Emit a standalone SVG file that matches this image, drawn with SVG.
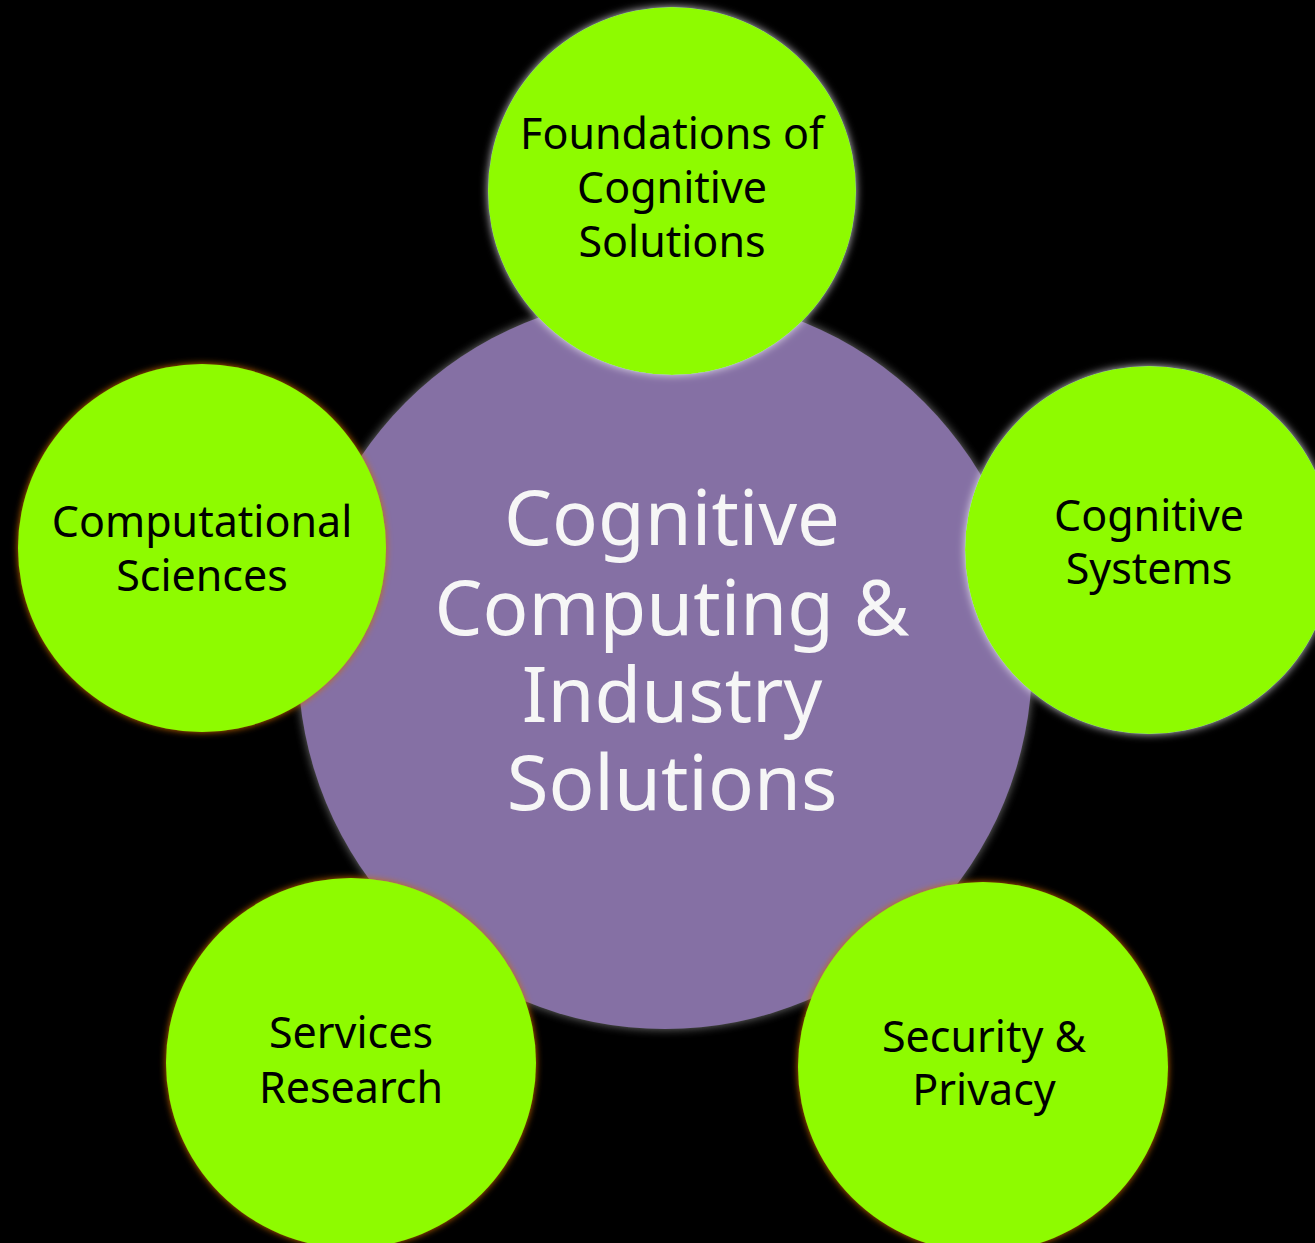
<svg xmlns="http://www.w3.org/2000/svg" width="1315" height="1243" viewBox="0 0 1315 1243">
  <defs>
    <filter id="glowWhite" x="-20%" y="-20%" width="140%" height="140%">
      <feGaussianBlur in="SourceAlpha" stdDeviation="4" result="b"/>
      <feFlood flood-color="#f4f0f6" flood-opacity="0.85"/>
      <feComposite in2="b" operator="in" result="g"/>
      <feMerge><feMergeNode in="g"/><feMergeNode in="SourceGraphic"/></feMerge>
    </filter>
    <filter id="glowOrange" x="-20%" y="-20%" width="140%" height="140%">
      <feGaussianBlur in="SourceAlpha" stdDeviation="3.5" result="b"/>
      <feFlood flood-color="#d06a0a" flood-opacity="1"/>
      <feComposite in2="b" operator="in" result="g"/>
      <feMerge><feMergeNode in="g"/><feMergeNode in="SourceGraphic"/></feMerge>
    </filter>
    <filter id="glowGray" x="-20%" y="-20%" width="140%" height="140%">
      <feGaussianBlur in="SourceAlpha" stdDeviation="5" result="b"/>
      <feFlood flood-color="#9a9a9a" flood-opacity="0.75"/>
      <feComposite in2="b" operator="in" result="g"/>
      <feMerge><feMergeNode in="g"/><feMergeNode in="SourceGraphic"/></feMerge>
    </filter>
  </defs>
  <style>
    .bg { fill: #000000; }
    .center { fill: #8570a4; }
    .sat { fill: #8efb00; }
    .lbl { font-family: "Noto Sans", "Open Sans", "DejaVu Sans", sans-serif; font-size: 43px; fill: #000000; text-anchor: middle; }
    .big { font-family: "Noto Sans", "Open Sans", "DejaVu Sans", sans-serif; font-size: 76px; fill: #f6f6f6; text-anchor: middle; }
  </style>
  <rect class="bg" x="0" y="0" width="1315" height="1243"/>

  <g id="node-center">
    <circle class="center" cx="665" cy="662" r="367" filter="url(#glowGray)"/>
    <text class="big" x="672" y="545">Cognitive</text>
    <text class="big" x="672" y="635">Computing &amp;</text>
    <text class="big" x="672" y="722">Industry</text>
    <text class="big" x="672" y="810">Solutions</text>
  </g>

  <g id="connectors"></g>

  <g id="node-foundations">
    <circle class="sat" cx="672" cy="191" r="184" filter="url(#glowWhite)"/>
    <text class="lbl" x="672" y="149">Foundations of</text>
    <text class="lbl" x="672" y="203">Cognitive</text>
    <text class="lbl" x="672" y="257">Solutions</text>
  </g>

  <g id="node-cognitive-systems">
    <circle class="sat" cx="1149" cy="550" r="184" filter="url(#glowWhite)"/>
    <text class="lbl" x="1149" y="531">Cognitive</text>
    <text class="lbl" x="1149" y="584">Systems</text>
  </g>

  <g id="node-computational">
    <circle class="sat" cx="202" cy="548" r="184" filter="url(#glowOrange)"/>
    <text class="lbl" x="202" y="537">Computational</text>
    <text class="lbl" x="202" y="591">Sciences</text>
  </g>

  <g id="node-services">
    <circle class="sat" cx="351" cy="1063" r="185" filter="url(#glowOrange)"/>
    <text class="lbl" x="351" y="1048">Services</text>
    <text class="lbl" x="351" y="1103">Research</text>
  </g>

  <g id="node-security">
    <circle class="sat" cx="983" cy="1067" r="185" filter="url(#glowOrange)"/>
    <text class="lbl" x="984" y="1052">Security &amp;</text>
    <text class="lbl" x="984" y="1105">Privacy</text>
  </g>
</svg>
